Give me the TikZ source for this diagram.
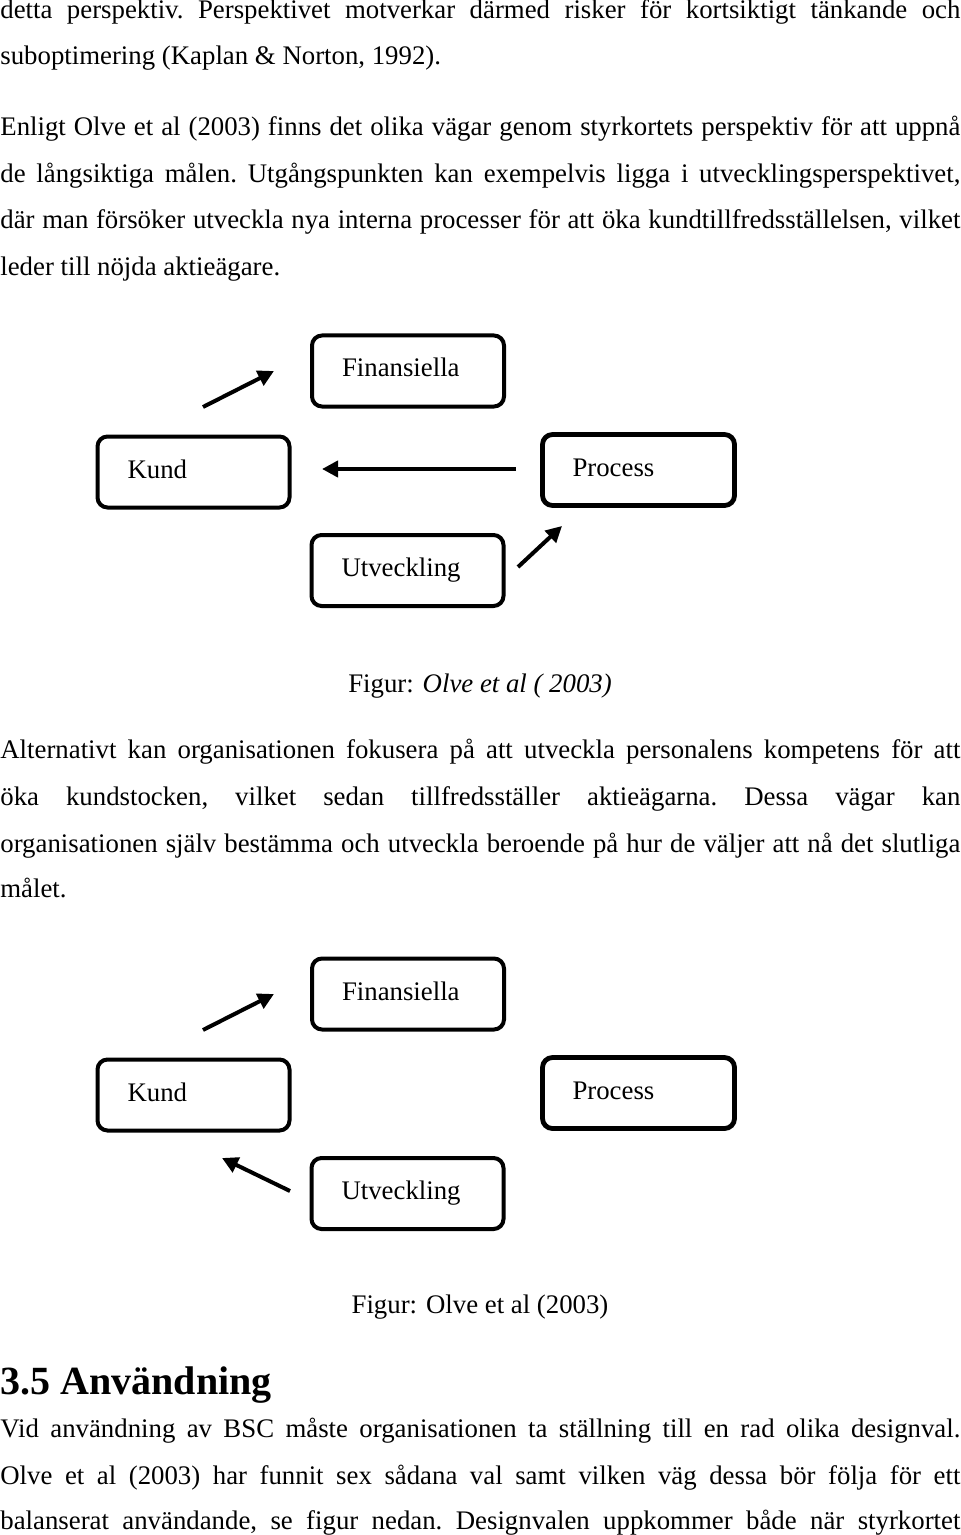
\documentclass[tikz,border=0pt]{standalone}
\usepackage{fontspec}
\setmainfont{Liberation Serif}
\usetikzlibrary{arrows.meta}
\newcommand\jline[1]{\hbox to 480pt{\frenchspacing\spaceskip=0.25em plus 1fil minus 0.1em\relax #1}}
\begin{document}
\begin{tikzpicture}[x=0.5pt,y=-0.5pt,
 txt/.style={anchor=base west, inner sep=0pt, font=\fontsize{13.4pt}{16pt}\selectfont\frenchspacing},
 captxt/.style={anchor=base, inner sep=0pt, font=\fontsize{13.4pt}{16pt}\selectfont},
 pbox/.style={draw, line width=2pt, rounded corners=5pt, text width=66pt, inner xsep=15pt, minimum height=35.5pt, align=left, text height=9pt, text depth=3pt, font=\fontsize{13.4pt}{16pt}\selectfont},
 arr/.style={line width=2pt, -{Triangle[length=8pt,width=8pt]}}]
\useasboundingbox (0,0) rectangle (960,1535);
\fill[white] (0,0) rectangle (960,1535);

% top paragraph
\node[txt] (t1) at (0,19) {\jline{detta perspektiv. Perspektivet motverkar därmed risker för kortsiktigt tänkande och}};
\node[txt] (t2) at (0,65) {suboptimering (Kaplan \& Norton, 1992).};
\node[txt] (t3) at (0,136) {\jline{Enligt Olve et al (2003) finns det olika vägar genom styrkortets perspektiv för att uppnå}};
\node[txt] (t4) at (0,183) {\jline{de långsiktiga målen. Utgångspunkten kan exempelvis ligga i utvecklingsperspektivet,}};
\node[txt] (t5) at (0,229) {\jline{där man försöker utveckla nya interna processer för att öka kundtillfredsställelsen, vilket}};
\node[txt] (t6) at (0,276) {leder till nöjda aktieägare.};

% diagram 1
\node[pbox] (fin1) at (408,371) {Finansiella};
\node[pbox] (kund1) at (193.5,472) {Kund};
\node[pbox, line width=2.4pt] (proc1) at (638.5,470) {Process};
\node[pbox] (utv1) at (407.5,570.5) {Utveckling};
\coordinate (a1s) at (203,407); \coordinate (a1e) at (274,371);
\coordinate (a2s) at (516,469); \coordinate (a2e) at (322,469);
\coordinate (a3s) at (518,567); \coordinate (a3e) at (562,526);
\draw[arr] (a1s) -- (a1e);
\draw[arr] (a2s) -- (a2e);
\draw[arr] (a3s) -- (a3e);
\node[captxt] (c1) at (480,692) {Figur: \textit{Olve et al ( 2003)}};

% middle paragraph
\node[txt] (m1) at (0,758) {\jline{Alternativt kan organisationen fokusera på att utveckla personalens kompetens för att}};
\node[txt] (m2) at (0,805) {\jline{öka kundstocken, vilket sedan tillfredsställer aktieägarna. Dessa vägar kan}};
\node[txt] (m3) at (0,852) {\jline{organisationen själv bestämma och utveckla beroende på hur de väljer att nå det slutliga}};
\node[txt] (m4) at (0,897) {målet.};

% diagram 2
\node[pbox] (fin2) at (408,994) {Finansiella};
\node[pbox] (kund2) at (193.5,1095) {Kund};
\node[pbox, line width=2.4pt] (proc2) at (638.5,1093) {Process};
\node[pbox] (utv2) at (407.5,1193.5) {Utveckling};
\coordinate (b1s) at (203,1030); \coordinate (b1e) at (274,994);
\coordinate (b2s) at (290,1191); \coordinate (b2e) at (222,1158);
\draw[arr] (b1s) -- (b1e);
\draw[arr] (b2s) -- (b2e);
\node[captxt] (c2) at (480,1313) {Figur: Olve et al (2003)};

% heading
\node[anchor=base west, inner sep=0pt, font=\fontsize{20pt}{24pt}\selectfont\bfseries] (h) at (0,1394) {3.5 Användning};

% bottom paragraph
\node[txt] (b1) at (0,1437) {\jline{Vid användning av BSC måste organisationen ta ställning till en rad olika designval.}};
\node[txt] (b2) at (0,1484) {\jline{Olve et al (2003) har funnit sex sådana val samt vilken väg dessa bör följa för ett}};
\node[txt] (b3) at (0,1529) {\jline{balanserat användande, se figur nedan. Designvalen uppkommer både när styrkortet}};
\end{tikzpicture}
\end{document}
